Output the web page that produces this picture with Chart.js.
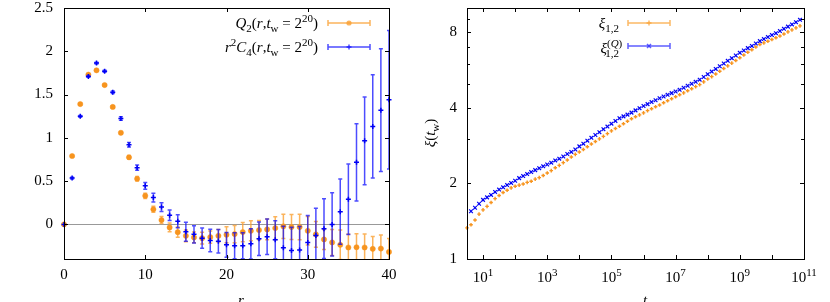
<!DOCTYPE html>
<html>
<head>
<meta charset="utf-8">
<script src="https://cdn.jsdelivr.net/npm/chart.js@4.4.1/dist/chart.umd.min.js"></script>
<style>
  html, body { margin: 0; padding: 0; background: #fff; }
  #wrap { position: relative; width: 830px; height: 302px; overflow: hidden; }
  .box { position: absolute; top: 0; width: 415px; height: 302px; }
</style>
</head>
<body>
<div id="wrap">
  <div class="box" style="left:0"><canvas id="left"></canvas></div>
  <div class="box" style="left:415px"><canvas id="right"></canvas></div>
</div>
<script>
// left panel: Q2 and r^2 C4 against r
const radii = [0, 1, 2, 3, 4, 5, 6, 7, 8, 9, 10, 11, 12, 13, 14, 15, 16, 17, 18, 19, 20,
  21, 22, 23, 24, 25, 26, 27, 28, 29, 30, 31, 32, 33, 34, 35, 36, 37, 38, 39, 40];
const q2Values = [0, 0.79, 1.39, 1.73, 1.78, 1.61, 1.357, 1.058, 0.775, 0.527, 0.33,
  0.174, 0.05, -0.035, -0.09, -0.132, -0.151, -0.159, -0.147, -0.132, -0.12,
  -0.112, -0.089, -0.074, -0.066, -0.058, -0.043, -0.023, -0.031, -0.031, -0.074,
  -0.116, -0.174, -0.209, -0.236, -0.267, -0.264, -0.267, -0.283, -0.279, -0.318];
const q2Errors = [0, 0.005, 0.01, 0.01, 0.01, 0.01, 0.015, 0.015, 0.02, 0.025, 0.03,
  0.035, 0.04, 0.05, 0.06, 0.068, 0.062, 0.068, 0.07, 0.072, 0.093,
  0.1, 0.112, 0.116, 0.112, 0.12, 0.132, 0.141, 0.145, 0.147, 0.165,
  0.149, 0.116, 0.151, 0.17, 0.155, 0.155, 0.155, 0.143, 0.155, 0.155];
const c4Values = [0, 0.535, 1.248, 1.71, 1.864, 1.77, 1.527, 1.224, 0.92, 0.655, 0.445,
  0.31, 0.2, 0.105, 0.035, -0.085, -0.115, -0.159, -0.186, -0.194, -0.236,
  -0.248, -0.248, -0.225, -0.167, -0.143, -0.178, -0.271, -0.302, -0.295, -0.21,
  -0.128, -0.05, 0.0, 0.147, 0.291, 0.717, 0.965, 1.132, 1.32, 1.44];
const c4Errors = [0, 0.01, 0.01, 0.01, 0.01, 0.012, 0.015, 0.02, 0.025, 0.03, 0.04,
  0.05, 0.05, 0.06, 0.075, 0.11, 0.1, 0.118, 0.13, 0.136, 0.143,
  0.15, 0.15, 0.175, 0.194, 0.205, 0.22, 0.248, 0.27, 0.27, 0.314,
  0.314, 0.345, 0.364, 0.378, 0.407, 0.446, 0.508, 0.597, 0.71, 0.8];
const leftXTicks = [0, 10, 20, 30, 40];
const leftYTicks = [0, 0.5, 1, 1.5, 2, 2.5];

// right panel: xi against t_w (log10 of t_w)
const twExponents = [
  0.5, 0.625, 0.75, 0.875, 1, 1.125, 1.25, 1.375, 1.5, 1.625, 1.75, 1.875,
  2, 2.125, 2.25, 2.375, 2.5, 2.625, 2.75, 2.875, 3, 3.125, 3.25, 3.375,
  3.5, 3.625, 3.75, 3.875, 4, 4.125, 4.25, 4.375, 4.5, 4.625, 4.75, 4.875,
  5, 5.125, 5.25, 5.375, 5.5, 5.625, 5.75, 5.875, 6, 6.125, 6.25, 6.375,
  6.5, 6.625, 6.75, 6.875, 7, 7.125, 7.25, 7.375, 7.5, 7.625, 7.75, 7.875,
  8, 8.125, 8.25, 8.375, 8.5, 8.625, 8.75, 8.875, 9, 9.125, 9.25, 9.375,
  9.5, 9.625, 9.75, 9.875, 10, 10.125, 10.25, 10.375, 10.5, 10.625, 10.75, 10.875];
const xiValues = [
  1.33, 1.37, 1.43, 1.51, 1.57, 1.62, 1.68, 1.74, 1.79, 1.84, 1.88, 1.92,
  1.95, 1.97, 1.99, 2.02, 2.04, 2.08, 2.11, 2.15, 2.20, 2.25, 2.31, 2.36,
  2.42, 2.48, 2.55, 2.61, 2.67, 2.73, 2.80, 2.87, 2.94, 3.01, 3.08, 3.16,
  3.24, 3.31, 3.38, 3.46, 3.54, 3.62, 3.69, 3.75, 3.82, 3.90, 3.97, 4.04,
  4.11, 4.19, 4.27, 4.35, 4.43, 4.51, 4.59, 4.68, 4.77, 4.86, 4.95, 5.08,
  5.21, 5.33, 5.46, 5.60, 5.74, 5.88, 6.03, 6.18, 6.34, 6.50, 6.66, 6.82,
  6.99, 7.15, 7.26, 7.37, 7.49, 7.61, 7.73, 7.88, 8.03, 8.18, 8.33, 8.49];
const xiQValues = [
  null, 1.55, 1.60, 1.66, 1.72, 1.76, 1.80, 1.85, 1.89, 1.93, 1.97, 2.01,
  2.05, 2.10, 2.14, 2.18, 2.22, 2.26, 2.30, 2.34, 2.38, 2.42, 2.47, 2.51,
  2.56, 2.62, 2.67, 2.73, 2.81, 2.88, 2.96, 3.04, 3.12, 3.20, 3.29, 3.37,
  3.46, 3.55, 3.64, 3.70, 3.76, 3.83, 3.91, 3.99, 4.07, 4.14, 4.22, 4.29,
  4.37, 4.44, 4.51, 4.58, 4.65, 4.72, 4.81, 4.90, 4.99, 5.08, 5.18, 5.31,
  5.45, 5.58, 5.72, 5.86, 6.01, 6.16, 6.31, 6.47, 6.63, 6.77, 6.92, 7.06,
  7.22, 7.38, 7.52, 7.66, 7.80, 7.94, 8.09, 8.26, 8.43, 8.60, 8.78, 8.97];
const rightXTickExps = [1, 2, 3, 4, 5, 6, 7, 8, 9, 10, 11];
const rightXLabelExps = [1, 3, 5, 7, 9, 11];
const rightYTicks = [1, 2, 4, 8];
const rightYMinor = [3, 5, 6, 7, 9];

const SERIF = '"Liberation Serif", "DejaVu Serif", serif';
const ORANGE = 'rgb(247,148,30)';
const ORANGE_BAR = 'rgba(250,160,50,0.8)';
const BLUE = 'rgb(0,0,245)';
const BLUE_BAR = 'rgba(0,0,255,0.7)';

// draws text pieces with italic / sub / sup, y is the baseline
function drawRich(ctx, parts, x, y, align) {
  let total = 0;
  const items = parts.map(p => {
    const t = p[0], k = p[1], dx = p[2] || 0;
    const small = k.indexOf('sub') === 0 || k.indexOf('sup') === 0;
    const italic = k === 'i' || k === 'subi' || k === 'supi';
    const font = (italic ? 'italic ' : '') + (small ? 11 : 15) + 'px ' + SERIF;
    ctx.font = font;
    const w = ctx.measureText(t).width;
    const dy = k.indexOf('sub') === 0 ? 4 : (k.indexOf('sup') === 0 ? -6 : 0);
    total += w + dx;
    return { t, font, w, dy, dx };
  });
  let cx = align === 'right' ? x - total : (align === 'center' ? x - total / 2 : x);
  ctx.textBaseline = 'alphabetic';
  ctx.textAlign = 'left';
  items.forEach(it => {
    cx += it.dx;
    ctx.font = it.font;
    ctx.fillText(it.t, cx, y + it.dy);
    cx += it.w;
  });
}

// error bars, drawn just before each dataset's own points
const errorBars = {
  id: 'errorBars',
  beforeDatasetDraw(chart, args) {
    const ds = chart.data.datasets[args.index];
    if (!ds.errors) return;
    const ctx = chart.ctx, a = chart.chartArea, ys = chart.scales.y;
    ctx.save();
    ctx.beginPath();
    ctx.rect(a.left, a.top, a.right - a.left, a.bottom - a.top);
    ctx.clip();
    ctx.strokeStyle = ds.barColor;
    ctx.lineWidth = 1.5;
    args.meta.data.forEach((pt, j) => {
      const e = ds.errors[j];
      if (!e) return;
      const v = ds.data[j].y;
      const y1 = ys.getPixelForValue(v + e), y2 = ys.getPixelForValue(v - e);
      ctx.beginPath();
      ctx.moveTo(pt.x, y1); ctx.lineTo(pt.x, y2);
      ctx.moveTo(pt.x - 2, y1); ctx.lineTo(pt.x + 2, y1);
      ctx.moveTo(pt.x - 2, y2); ctx.lineTo(pt.x + 2, y2);
      ctx.stroke();
    });
    ctx.restore();
  }
};

// box border with inward ticks on all four sides
const frame = {
  id: 'frame',
  afterDatasetsDraw(chart, args, opts) {
    const ctx = chart.ctx, a = chart.chartArea;
    const xs = chart.scales.x, ys = chart.scales.y;
    ctx.save();
    ctx.strokeStyle = '#000';
    ctx.lineWidth = 1;
    ctx.beginPath();
    (opts.xMajor || []).forEach(v => {
      const x = Math.round(xs.getPixelForValue(v)) + 0.5;
      ctx.moveTo(x, a.bottom); ctx.lineTo(x, a.bottom - 4);
      ctx.moveTo(x, a.top); ctx.lineTo(x, a.top + 4);
    });
    (opts.yMajor || []).forEach(v => {
      const y = Math.round(ys.getPixelForValue(v)) + 0.5;
      ctx.moveTo(a.left, y); ctx.lineTo(a.left + 4, y);
      ctx.moveTo(a.right, y); ctx.lineTo(a.right - 4, y);
    });
    (opts.yMinor || []).forEach(v => {
      const y = Math.round(ys.getPixelForValue(v)) + 0.5;
      ctx.moveTo(a.left, y); ctx.lineTo(a.left + 3, y);
      ctx.moveTo(a.right, y); ctx.lineTo(a.right - 3, y);
    });
    ctx.stroke();
    ctx.strokeRect(Math.round(a.left) + 0.5, Math.round(a.top) + 0.5,
      Math.round(a.right - a.left), Math.round(a.bottom - a.top));
    ctx.restore();
  }
};

function legendSample(ctx, x1, x2, y, color, marker) {
  ctx.save();
  ctx.strokeStyle = color;
  ctx.lineWidth = 1.5;
  ctx.beginPath();
  ctx.moveTo(x1, y); ctx.lineTo(x2, y);
  ctx.moveTo(x1, y - 3); ctx.lineTo(x1, y + 3);
  ctx.moveTo(x2, y - 3); ctx.lineTo(x2, y + 3);
  ctx.stroke();
  const m = (x1 + x2) / 2;
  ctx.beginPath();
  if (marker === 'circle') {
    ctx.fillStyle = color;
    ctx.arc(m, y, 2.6, 0, Math.PI * 2);
    ctx.fill();
  } else if (marker === 'cross') {
    ctx.moveTo(m - 2.5, y); ctx.lineTo(m + 2.5, y);
    ctx.moveTo(m, y - 2.5); ctx.lineTo(m, y + 2.5);
    ctx.stroke();
  } else {
    ctx.moveTo(m - 2, y - 2); ctx.lineTo(m + 2, y + 2);
    ctx.moveTo(m - 2, y + 2); ctx.lineTo(m + 2, y - 2);
    ctx.stroke();
  }
  ctx.restore();
}

const leftDecor = {
  id: 'leftDecor',
  beforeDatasetsDraw(chart) {
    const ctx = chart.ctx, a = chart.chartArea;
    const y = Math.round(chart.scales.y.getPixelForValue(0)) + 0.5;
    ctx.save();
    ctx.strokeStyle = '#999';
    ctx.lineWidth = 1;
    ctx.beginPath();
    ctx.moveTo(a.left, y); ctx.lineTo(a.right, y);
    ctx.stroke();
    ctx.restore();
  },
  afterDraw(chart) {
    const ctx = chart.ctx;
    ctx.save();
    ctx.fillStyle = '#000';
    drawRich(ctx, [['Q', 'i'], ['2', 'sub'], ['(', 'n'], ['r', 'i'], [',', 'n'], ['t', 'i'],
      ['w', 'sub'], [' = 2', 'n'], ['20', 'sup'], [')', 'n']], 318, 28, 'right');
    drawRich(ctx, [['r', 'i'], ['2', 'sup'], ['C', 'i'], ['4', 'sub'], ['(', 'n'], ['r', 'i'],
      [',', 'n'], ['t', 'i'], ['w', 'sub'], [' = 2', 'n'], ['20', 'sup'], [')', 'n']], 318, 52, 'right');
    legendSample(ctx, 328, 370, 23, ORANGE_BAR, 'circle');
    legendSample(ctx, 328, 370, 47, BLUE_BAR, 'cross');
    drawRich(ctx, [['r', 'i']], 241, 305, 'center');
    ctx.restore();
  }
};

const rightDecor = {
  id: 'rightDecor',
  afterDraw(chart) {
    const ctx = chart.ctx, xs = chart.scales.x;
    ctx.save();
    ctx.fillStyle = '#000';
    rightXLabelExps.forEach(e => {
      const x = xs.getPixelForValue(Math.pow(10, e));
      drawRich(ctx, [['10', 'n'], [String(e), 'sup']], x, 282, 'center');
    });
    drawRich(ctx, [['ξ', 'i'], ['1,2', 'sub']], 204, 28, 'right');
    drawRich(ctx, [['ξ', 'i'], ['(', 'sup'], ['Q', 'supi'], [')', 'sup'], ['1,2', 'sub', -17]], 204, 53, 'right');
    legendSample(ctx, 213, 255, 23, 'rgba(250,160,50,0.75)', 'cross');
    legendSample(ctx, 213, 255, 46, 'rgba(40,40,255,0.75)', 'x');
    drawRich(ctx, [['t', 'i'], ['w', 'sub']], 228, 305, 'left');
    ctx.translate(20, 133);
    ctx.rotate(-Math.PI / 2);
    drawRich(ctx, [['ξ', 'i'], ['(', 'n'], ['t', 'i'], ['w', 'sub'], [')', 'n']], 0, 0, 'center');
    ctx.restore();
  }
};

// shared axis look; the fit callback pins the plot box in place
function axisBase(extra, showTicks, pad, fit) {
  return Object.assign({
    grid: { display: false, drawTicks: false },
    border: { display: false },
    ticks: {
      display: showTicks,
      padding: pad,
      font: { family: SERIF, size: 15, lineHeight: 1 },
      color: '#000',
      maxRotation: 0,
      autoSkip: false,
      callback: v => String(v)
    },
    afterFit: s => {
      fit(s);
      s.paddingTop = s.isHorizontal() ? 0 : 8;
      s.paddingBottom = 0;
      s.paddingLeft = 0;
      s.paddingRight = 0;
    }
  }, extra);
}

new Chart(document.getElementById('left'), {
  type: 'scatter',
  data: {
    datasets: [
      {
        label: 'Q2',
        data: radii.map((r, i) => ({ x: r, y: q2Values[i] })),
        errors: q2Errors,
        barColor: ORANGE_BAR,
        pointStyle: 'circle',
        pointRadius: 2.6,
        backgroundColor: ORANGE,
        borderColor: 'rgba(247,148,30,0.5)',
        borderWidth: 1,
        clip: false,
        order: 2
      },
      {
        label: 'r2C4',
        data: radii.map((r, i) => ({ x: r, y: c4Values[i] })),
        errors: c4Errors,
        barColor: BLUE_BAR,
        pointStyle: 'cross',
        pointRadius: 2.5,
        borderColor: BLUE,
        borderWidth: 1.5,
        clip: false,
        order: 1
      }
    ]
  },
  options: {
    responsive: true,
    maintainAspectRatio: false,
    animation: false,
    events: [],
    layout: { padding: { top: 0, right: 26, left: 0, bottom: 0 } },
    plugins: {
      legend: { display: false },
      tooltip: { enabled: false },
      frame: { xMajor: leftXTicks, yMajor: leftYTicks }
    },
    scales: {
      x: axisBase({
        type: 'linear', min: 0, max: 40,
        afterBuildTicks: s => { s.ticks = leftXTicks.map(v => ({ value: v })); }
      }, true, 9, s => { s.height = 43; }),
      y: axisBase({
        type: 'linear', min: -0.4, max: 2.5,
        afterBuildTicks: s => { s.ticks = leftYTicks.map(v => ({ value: v })); }
      }, true, 11, s => { s.width = 64; })
    }
  },
  plugins: [errorBars, frame, leftDecor]
});

new Chart(document.getElementById('right'), {
  type: 'scatter',
  data: {
    datasets: [
      {
        label: 'xi12',
        data: twExponents.map((e, i) => ({ x: Math.pow(10, e), y: xiValues[i] })),
        pointStyle: 'cross',
        pointRadius: 1.8,
        borderColor: ORANGE,
        borderWidth: 1.4,
        clip: false,
        order: 2
      },
      {
        label: 'xiQ12',
        data: twExponents.map((e, i) => ({ x: Math.pow(10, e), y: xiQValues[i] })).filter(p => p.y !== null),
        pointStyle: 'crossRot',
        pointRadius: 2.6,
        borderColor: BLUE,
        borderWidth: 1.2,
        clip: false,
        order: 1
      }
    ]
  },
  options: {
    responsive: true,
    maintainAspectRatio: false,
    animation: false,
    events: [],
    layout: { padding: { top: 0, right: 26, left: 0, bottom: 0 } },
    plugins: {
      legend: { display: false },
      tooltip: { enabled: false },
      frame: {
        xMajor: rightXTickExps.map(e => Math.pow(10, e)),
        yMajor: rightYTicks,
        yMinor: rightYMinor
      }
    },
    scales: {
      x: axisBase({
        type: 'logarithmic', min: Math.pow(10, 0.5), max: 1e11,
        afterBuildTicks: s => { s.ticks = rightXTickExps.map(e => ({ value: Math.pow(10, e) })); }
      }, false, 0, s => { s.height = 43; }),
      y: axisBase({
        type: 'logarithmic', min: 1, max: 10,
        afterBuildTicks: s => { s.ticks = rightYTicks.map(v => ({ value: v })); }
      }, true, 10, s => { s.width = 52; })
    }
  },
  plugins: [frame, rightDecor]
});
</script>
</body>
</html>
